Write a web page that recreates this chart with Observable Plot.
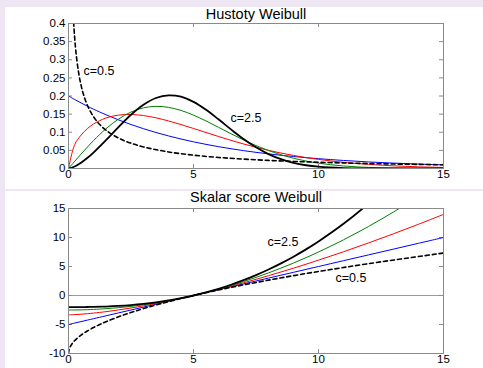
<!DOCTYPE html>
<html>
<head>
<meta charset="utf-8">
<script src="https://cdn.jsdelivr.net/npm/d3@7"></script>
<script src="https://cdn.jsdelivr.net/npm/@observablehq/plot@0.6"></script>
<style>
  html, body { margin: 0; padding: 0; background: #efe6f4; }
  #wrap { position: relative; width: 483px; height: 368px; overflow: hidden; font-family: "Liberation Sans", Arial, sans-serif; }
  .panel { position: absolute; left: 5px; width: 478px; background: #fff; }
  .panel svg { display: block; }
</style>
</head>
<body>
<div id="wrap">
  <div id="p1" class="panel" style="top:7px;height:182px"></div>
  <div id="p2" class="panel" style="top:191px;height:177px"></div>
</div>
<script>
// ---- shared x grids ----
const xGrid = [0,0.25,0.5,0.75,1,1.5,2,2.5,3,3.5,4,4.5,5,5.5,6,6.5,7,7.5,8,8.5,9,9.5,10,11,12,13,14,15];
const xFine = [0,0.02,0.05,0.1,0.15,0.2,0.25,0.3,0.4,0.5,0.6,0.75,1,1.25,1.5,2,2.5,3,4,5,6,7,8,9,10,12,15];

// ---- tick values ----
const xTicks = [0,5,10,15];
const densTicks = [0,0.05,0.1,0.15,0.2,0.25,0.3,0.35,0.4];
const scoreTicks = [-10,-5,0,5,10,15];

// ---- titles and labels ----
const titleTop = "Hustoty Weibull";
const titleBottom = "Skalar score Weibull";
const densLabels = [{x: 0.6, y: 0.27, text: "c=0.5"}, {x: 6.48, y: 0.138, text: "c=2.5"}];
const scoreLabels = [{x: 7.96, y: 9.2, text: "c=2.5"}, {x: 10.68, y: 3.1, text: "c=0.5"}];

// ---- density values (on xGrid unless noted) ----
const densC1  = [0.2,0.1902,0.1810,0.1721,0.1637,0.1482,0.1341,0.1213,0.1098,0.0993,0.0899,0.0813,0.0736,0.0666,0.0602,0.0545,0.0493,0.0446,0.0404,0.0365,0.0331,0.0299,0.0271,0.0222,0.0181,0.0149,0.0122,0.0100];
const densC15 = [0,0.0663,0.0919,0.1096,0.1227,0.1394,0.1473,0.1490,0.1460,0.1397,0.1312,0.1212,0.1104,0.0993,0.0883,0.0777,0.0677,0.0585,0.0501,0.0426,0.0360,0.0301,0.0251,0.0170,0.0113,0.0073,0.0046,0.0029];
const densC2  = [0,0.0200,0.0396,0.0587,0.0769,0.1097,0.1363,0.1558,0.1674,0.1715,0.1687,0.1602,0.1472,0.1312,0.1137,0.0959,0.0789,0.0632,0.0495,0.0378,0.0282,0.0206,0.0147,0.0070,0.0030,0.0012,0.0004,0.0001];
const densC25 = [0,0.0056,0.0158,0.0288,0.0439,0.0782,0.1143,0.1482,0.1758,0.1944,0.2018,0.1980,0.1839,0.1621,0.1357,0.1079,0.0815,0.0584,0.0397,0.0256,0.0156,0.0090,0.0049,0.0012,0.0002,0,0,0];
// on xFine
const densC05 = [null,1.485,0.905,0.614,0.4856,0.4094,0.3576,0.3196,0.2665,0.2305,0.2042,0.1753,0.1430,0.1213,0.1056,0.0840,0.0697,0.0595,0.0457,0.0368,0.0305,0.0259,0.0223,0.0195,0.0172,0.0137,0.0102];

// ---- scaled score values (on xGrid unless noted) ----
const scoreC1  = [-5,-4.75,-4.5,-4.25,-4,-3.5,-3,-2.5,-2,-1.5,-1,-0.5,0,0.5,1,1.5,2,2.5,3,3.5,4,4.5,5,6,7,8,9,10];
const scoreC15 = [-3.333,-3.296,-3.228,-3.140,-3.035,-2.786,-2.490,-2.155,-1.784,-1.381,-0.948,-0.487,0,0.512,1.048,1.608,2.188,2.790,3.413,4.055,4.716,5.397,6.095,7.543,9.060,10.642,12.284,13.987];
const scoreC2  = [-2.5,-2.494,-2.475,-2.444,-2.4,-2.275,-2.1,-1.875,-1.6,-1.275,-0.9,-0.475,0,0.525,1.1,1.725,2.4,3.125,3.9,4.725,5.6,6.525,7.5,9.6,11.9,14.4,17.1,20];
const scoreC25 = [-2,-1.999,-1.994,-1.983,-1.964,-1.901,-1.798,-1.646,-1.442,-1.180,-0.855,-0.463,0,0.538,1.155,1.854,2.638,3.511,4.476,5.536,6.694,7.952,9.314,12.357,15.847,19.80,24.24,29.18];
// on xFine
const scoreC05 = [-10,-9.37,-9.00,-8.59,-8.27,-8.00,-7.76,-7.55,-7.17,-6.84,-6.54,-6.13,-5.53,-5.00,-4.52,-3.68,-2.93,-2.25,-1.06,0,0.95,1.83,2.65,3.42,4.14,5.49,7.32];

// ---- series styling ----
const seriesStyle = [
  {key: "c1",  stroke: "#0000ff", strokeWidth: 1,   dash: null},
  {key: "c15", stroke: "#ff0000", strokeWidth: 1,   dash: null},
  {key: "c2",  stroke: "#008000", strokeWidth: 1,   dash: null},
  {key: "c25", stroke: "#000000", strokeWidth: 1.8, dash: null},
  {key: "c05", stroke: "#000000", strokeWidth: 1.6, dash: "4,3"}
];

function zip(xs, ys) {
  return xs.map((x, i) => ({x, y: ys[i]})).filter(d => d.y != null);
}

function panel({el, height, mt, mb, yDomain, yTicks, title, titleDy, series, labels, zeroRule}) {
  const W = 478, ml = 63, mr = 40;
  const fh = height - mt - mb, fw = W - ml - mr;
  const gray = "#8a8a8a";
  const marks = [];
  if (zeroRule) marks.push(Plot.ruleY([0], {stroke: "#999", strokeWidth: 1}));
  // inner ticks (MATLAB style)
  marks.push(Plot.tickX(xTicks, {x: d => d, stroke: gray, insetBottom: fh - 4}));
  marks.push(Plot.tickX(xTicks, {x: d => d, stroke: gray, insetTop: fh - 4}));
  marks.push(Plot.tickY(yTicks, {y: d => d, stroke: gray, insetRight: fw - 4}));
  marks.push(Plot.tickY(yTicks, {y: d => d, stroke: gray, insetLeft: fw - 4}));
  for (const s of seriesStyle) {
    const data = series[s.key];
    marks.push(Plot.line(data, {
      x: "x", y: "y", stroke: s.stroke, strokeWidth: s.strokeWidth,
      strokeDasharray: s.dash, curve: "catmull-rom", clip: true
    }));
  }
  marks.push(Plot.frame({stroke: gray}));
  marks.push(Plot.axisX({ticks: xTicks, tickSize: 0, tickPadding: 1, fontSize: 11.5, label: null, tickFormat: d => String(d)}));
  marks.push(Plot.axisY({ticks: yTicks, tickSize: 0, tickPadding: 3, fontSize: 11.5, label: null, tickFormat: d => String(d)}));
  marks.push(Plot.text(labels, {x: "x", y: "y", text: "text", textAnchor: "start", fontSize: 12.5, fill: "#000"}));
  marks.push(Plot.text([title], {frameAnchor: "top", lineAnchor: "middle", dy: titleDy, fontSize: 14.5, fill: "#000"}));
  const chart = Plot.plot({
    width: W, height, marginLeft: ml, marginRight: mr, marginTop: mt, marginBottom: mb,
    style: {background: "#fff", fontFamily: "'Liberation Sans', Arial, sans-serif", color: "#000", overflow: "visible"},
    x: {domain: [0, 15], label: null},
    y: {domain: yDomain, label: null},
    marks
  });
  document.getElementById(el).appendChild(chart);
}

panel({
  el: "p1", height: 182, mt: 16, mb: 21,
  yDomain: [0, 0.4], yTicks: densTicks, title: titleTop, titleDy: -9,
  series: {
    c1: zip(xGrid, densC1), c15: zip(xGrid, densC15), c2: zip(xGrid, densC2),
    c25: zip(xGrid, densC25), c05: zip(xFine, densC05)
  },
  labels: densLabels, zeroRule: false
});

panel({
  el: "p2", height: 177, mt: 17, mb: 15,
  yDomain: [-10, 15], yTicks: scoreTicks, title: titleBottom, titleDy: -11,
  series: {
    c1: zip(xGrid, scoreC1), c15: zip(xGrid, scoreC15), c2: zip(xGrid, scoreC2),
    c25: zip(xGrid, scoreC25), c05: zip(xFine, scoreC05)
  },
  labels: scoreLabels, zeroRule: true
});
</script>
</body>
</html>
